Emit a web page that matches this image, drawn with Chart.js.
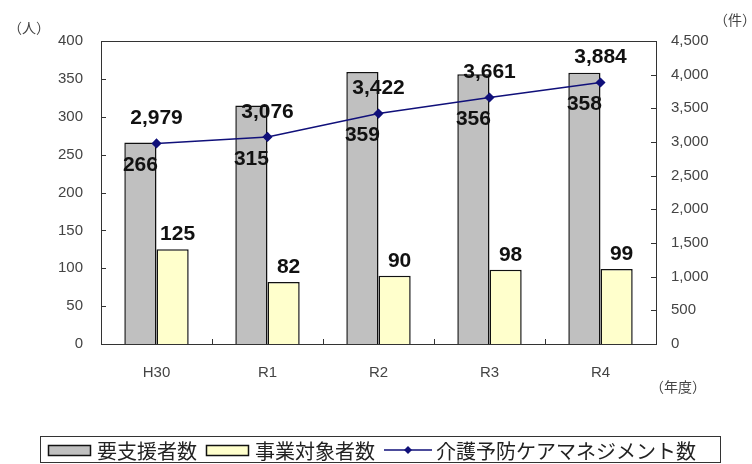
<!DOCTYPE html>
<html>
<head>
<meta charset="utf-8">
<script src="https://cdn.jsdelivr.net/npm/chart.js@4.4.0/dist/chart.umd.min.js"></script>
<style>
  html, body { margin: 0; padding: 0; background: #fff; }
  #wrap { width: 752px; height: 464px; }
</style>
</head>
<body>
<div id="wrap"><canvas id="chart" width="752" height="464"></canvas></div>
<script>
// data
const years = ['H30', 'R1', 'R2', 'R3', 'R4'];
const supportNeeded = [266, 315, 359, 356, 358];   // 要支援者数 (人)
const projectTargets = [125, 82, 90, 98, 99];       // 事業対象者数 (人)
const careManagement = [2979, 3076, 3422, 3661, 3884]; // 介護予防ケアマネジメント数 (件)

const labelFont = 'bold 21px "Liberation Sans", Arial, sans-serif';
const jpFont = '"Noto Sans CJK JP", sans-serif';

// labels, plot frame, inward tick marks and the boxed legend
const decorations = {
    id: 'decorations',
    afterDatasetsDraw(chart) {
        const ctx = chart.ctx;
        const area = chart.chartArea;
        const y = chart.scales.y, y1 = chart.scales.y1, x = chart.scales.x;
        ctx.save();

        // frame
        ctx.strokeStyle = '#333';
        ctx.lineWidth = 1;
        ctx.strokeRect(area.left + 0.5, area.top + 0.5, area.right - area.left, area.bottom - area.top);

        // inward tick marks
        ctx.beginPath();
        y.ticks.forEach(t => {
            const py = Math.round(y.getPixelForValue(t.value)) + 0.5;
            ctx.moveTo(area.left, py); ctx.lineTo(area.left + 5, py);
        });
        y1.ticks.forEach(t => {
            const py = Math.round(y1.getPixelForValue(t.value)) + 0.5;
            ctx.moveTo(area.right - 5, py); ctx.lineTo(area.right, py);
        });
        for (let i = 1; i < years.length; i++) {
            const px = Math.round((x.getPixelForValue(i - 1) + x.getPixelForValue(i)) / 2) + 0.5;
            ctx.moveTo(px, area.bottom); ctx.lineTo(px, area.bottom - 5);
        }
        ctx.stroke();

        // value labels
        ctx.fillStyle = '#111';
        ctx.font = labelFont;
        ctx.textAlign = 'center';
        ctx.textBaseline = 'middle';
        const grayBars = chart.getDatasetMeta(0).data;
        const yellowBars = chart.getDatasetMeta(1).data;
        const points = chart.getDatasetMeta(2).data;
        supportNeeded.forEach((v, i) => {
            ctx.fillText(String(v), grayBars[i].x, y1.getPixelForValue(careManagement[i]) + 22);
        });
        projectTargets.forEach((v, i) => {
            ctx.fillText(String(v), yellowBars[i].x + 5, yellowBars[i].y - 15);
        });
        careManagement.forEach((v, i) => {
            ctx.fillText(v.toLocaleString('en-US'), points[i].x, points[i].y - 25);
        });

        // unit labels
        ctx.fillStyle = '#444';
        ctx.font = '14px ' + jpFont;
        ctx.textAlign = 'left';
        ctx.fillText('（人）', 8, 28);
        ctx.fillText('（件）', 714, 20);
        ctx.fillText('（年度）', 650, 387);

        // legend
        const lx = 40, ly = 436, lw = 680, lh = 26;
        ctx.strokeStyle = '#333';
        ctx.strokeRect(lx + 0.5, ly + 0.5, lw, lh);
        ctx.font = '20px ' + jpFont;
        ctx.fillStyle = '#222';
        const cy = ly + 14;
        let cx = lx + 8;
        chart.data.datasets.forEach(ds => {
            if (ds.type === 'line') {
                ctx.strokeStyle = ds.borderColor;
                ctx.lineWidth = 1.5;
                ctx.beginPath();
                ctx.moveTo(cx, cy); ctx.lineTo(cx + 48, cy);
                ctx.stroke();
                ctx.fillStyle = ds.borderColor;
                ctx.beginPath();
                ctx.moveTo(cx + 24, cy - 4); ctx.lineTo(cx + 28, cy);
                ctx.lineTo(cx + 24, cy + 4); ctx.lineTo(cx + 20, cy);
                ctx.closePath();
                ctx.fill();
                cx += 52;
            } else {
                ctx.fillStyle = ds.backgroundColor;
                ctx.fillRect(cx, cy - 5, 42, 10);
                ctx.strokeStyle = '#111';
                ctx.lineWidth = 1.5;
                ctx.strokeRect(cx + 0.5, cy - 5 + 0.5, 42, 10);
                cx += 49;
            }
            ctx.fillStyle = '#222';
            ctx.fillText(ds.label, cx, cy + 1);
            cx += ctx.measureText(ds.label).width + 9;
        });
        ctx.restore();
    }
};

new Chart(document.getElementById('chart'), {
    type: 'bar',
    data: {
        labels: years,
        datasets: [
            { label: '要支援者数', data: supportNeeded, backgroundColor: '#c0c0c0', borderColor: '#111', borderWidth: 1.5, yAxisID: 'y', order: 2 },
            { label: '事業対象者数', data: projectTargets, backgroundColor: '#ffffcc', borderColor: '#111', borderWidth: 1.5, yAxisID: 'y', order: 2 },
            { type: 'line', label: '介護予防ケアマネジメント数', data: careManagement, borderColor: '#10107a', backgroundColor: '#10107a',
              borderWidth: 1.5, pointStyle: 'rectRot', pointRadius: 4, tension: 0, yAxisID: 'y1', order: 1 }
        ]
    },
    options: {
        responsive: false,
        devicePixelRatio: 1,
        animation: false,
        layout: { padding: { top: 41, left: 0, right: 0, bottom: 0 } },
        datasets: { bar: { categoryPercentage: 0.58, barPercentage: 1 } },
        plugins: { legend: { display: false }, tooltip: { enabled: false } },
        scales: {
            x: {
                grid: { display: false, drawTicks: false },
                border: { display: false },
                ticks: { color: '#444', font: { size: 15, family: '"Liberation Sans", Arial' }, padding: 20 },
                afterFit: s => { s.height = 120; }
            },
            y: {
                position: 'left', min: 0, max: 400,
                grid: { display: false, drawTicks: false },
                border: { display: false },
                ticks: { stepSize: 50, color: '#444', font: { size: 15, family: '"Liberation Sans", Arial' }, padding: 18 },
                afterFit: s => { s.width = 101; }
            },
            y1: {
                position: 'right', min: 0, max: 4500,
                grid: { display: false, drawTicks: false },
                border: { display: false },
                ticks: { stepSize: 500, color: '#444', font: { size: 15, family: '"Liberation Sans", Arial' }, padding: 15,
                         callback: v => v.toLocaleString('en-US') },
                afterFit: s => { s.width = 96; }
            }
        }
    },
    plugins: [decorations]
});
</script>
</body>
</html>
